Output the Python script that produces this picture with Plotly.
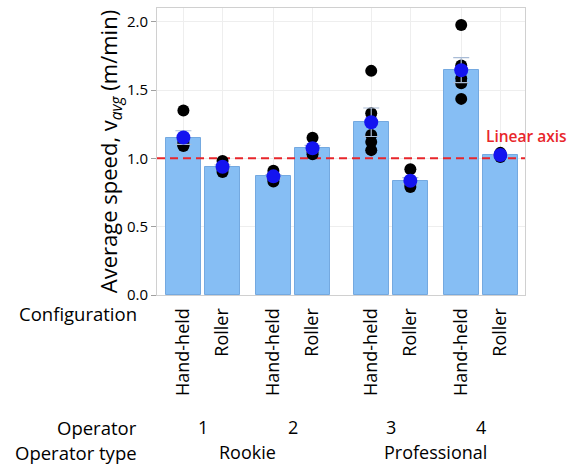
import numpy as np
import plotly.graph_objects as go

# ---- data -------------------------------------------------------------
operators = ["1", "2", "3", "4"]
operator_types = ["Rookie", "Rookie", "Professional", "Professional"]
configurations = ["Hand-held", "Roller"]

# individual runs, average speed v_avg (m/min), one list per operator/configuration
speed_op1_hand = [1.35, 1.12, 1.10, 1.10, 1.09]
speed_op1_roll = [0.98, 0.95, 0.94, 0.92, 0.90]
speed_op2_hand = [0.91, 0.88, 0.87, 0.85, 0.83]
speed_op2_roll = [1.15, 1.08, 1.06, 1.05, 1.03]
speed_op3_hand = [1.64, 1.33, 1.17, 1.12, 1.06]
speed_op3_roll = [0.92, 0.84, 0.82, 0.81, 0.79]
speed_op4_hand = [1.975, 1.68, 1.585, 1.55, 1.435]
speed_op4_roll = [1.04, 1.03, 1.02, 1.02, 1.01]

reference_speed = 1.0
y_ticks = [0.0, 0.5, 1.0, 1.5, 2.0]

runs = [
    speed_op1_hand, speed_op1_roll,
    speed_op2_hand, speed_op2_roll,
    speed_op3_hand, speed_op3_roll,
    speed_op4_hand, speed_op4_roll,
]

# ---- nested x positions (configuration within operator within type) ---
STEP_CFG, STEP_OP, STEP_TYPE = 1.0, 1.3, 1.5
positions, tick_text, op_centres, type_members = [], [], [], {}
x = 0.0
prev_op_type = None
for i, (op, typ) in enumerate(zip(operators, operator_types)):
    if i > 0:
        x += STEP_TYPE if typ != prev_op_type else STEP_OP
    first = x
    for j, cfg in enumerate(configurations):
        if j > 0:
            x += STEP_CFG
        positions.append(x)
        tick_text.append(cfg)
    op_centres.append((first + x) / 2)
    type_members.setdefault(typ, []).append((first + x) / 2)
    prev_op_type = typ

means = [float(np.mean(r)) for r in runs]
sems = [float(np.std(r, ddof=1) / np.sqrt(len(r))) for r in runs]

x_range = [positions[0] - 0.675, positions[-1] + 0.63]

FONT = "Open Sans"
BAR_FILL = "#86BEF4"
BAR_EDGE = "#74A9E0"
RED = "#E8262B"

# plot-area geometry in pixels (used to place the row titles)
PLOT_W, PLOT_H, PLOT_BOTTOM = 368, 287, 295

fig = go.Figure()

fig.add_trace(go.Bar(
    x=positions, y=means, width=0.9,
    marker=dict(color=BAR_FILL, line=dict(color=BAR_EDGE, width=1)),
    showlegend=False,
))

# horizontal reference line at 1 m/min
fig.add_trace(go.Scatter(
    x=x_range, y=[reference_speed, reference_speed], mode="lines",
    line=dict(color=RED, width=2, dash="8px,5px"),
    showlegend=False, hoverinfo="skip",
))

# individual runs
pts_x = [p for p, r in zip(positions, runs) for _ in r]
pts_y = [v for r in runs for v in r]
fig.add_trace(go.Scatter(
    x=pts_x, y=pts_y, mode="markers",
    marker=dict(color="black", size=12),
    showlegend=False,
))

# means with standard-error bars
fig.add_trace(go.Scatter(
    x=positions, y=means, mode="markers",
    marker=dict(color="#1414F0", size=14),
    error_y=dict(type="data", array=sems, color="#A9BCD6", thickness=1.2, width=8),
    showlegend=False,
))


def row_y(ypix):
    return (PLOT_BOTTOM - ypix) / PLOT_H


annotations = []
LABEL_SIZE = 18
ROW_CONFIG, ROW_OPERATOR, ROW_TYPE = 313, 427, 452
# row titles on the left
for text, ypix in [("Configuration", ROW_CONFIG), ("Operator", ROW_OPERATOR),
                   ("Operator type", ROW_TYPE)]:
    annotations.append(dict(
        text=text, xref="paper", yref="paper",
        x=-19 / PLOT_W, y=row_y(ypix), borderpad=0,
        xanchor="right", yanchor="middle", showarrow=False,
        font=dict(family=FONT, size=LABEL_SIZE + 0.5, color="black"),
    ))
# operator numbers
for op, xc in zip(operators, op_centres):
    annotations.append(dict(
        text=op, xref="x", yref="paper", x=xc, y=row_y(ROW_OPERATOR),
        borderpad=0, xanchor="center", yanchor="middle", showarrow=False,
        font=dict(family=FONT, size=LABEL_SIZE, color="black"),
    ))
# operator types
for typ, members in type_members.items():
    annotations.append(dict(
        text=typ, xref="x", yref="paper", x=float(np.mean(members)),
        y=row_y(ROW_TYPE), borderpad=0,
        xanchor="center", yanchor="middle", showarrow=False,
        font=dict(family=FONT, size=LABEL_SIZE, color="black"),
    ))
# reference line label
annotations.append(dict(
    text="Linear axis", xref="paper", yref="y", x=1.003, y=1.163,
    xanchor="center", yanchor="middle", showarrow=False,
    font=dict(family=FONT, size=15.5, color=RED, weight=600),
))

fig.update_layout(
    width=574, height=466,
    margin=dict(l=157, r=49, t=8, b=171),
    paper_bgcolor="white", plot_bgcolor="white",
    font=dict(family=FONT, color="black"),
    annotations=annotations,
    bargap=0,
)

fig.update_xaxes(
    range=x_range,
    tickmode="array", tickvals=positions, ticktext=tick_text,
    tickangle=-90, tickfont=dict(family=FONT, size=18, color="black"),
    ticks="", ticklabelstandoff=5,
    showgrid=True, gridcolor="#EEEEEE", gridwidth=1,
    showline=True, linecolor="#D0D0D0", linewidth=1, mirror=True,
    zeroline=False,
)
fig.update_yaxes(
    range=[0, 2.1],
    tickmode="array", tickvals=y_ticks, ticktext=[f"{v:.1f}" for v in y_ticks],
    tickfont=dict(family=FONT, size=15, color="black"),
    ticks="outside", ticklen=5, tickcolor="#A0A0A0",
    showgrid=True, gridcolor="#EEEEEE", gridwidth=1,
    showline=True, linecolor="#D0D0D0", linewidth=1, mirror=True,
    zeroline=False,
    title=dict(
        text="Average speed, v<sub><i>avg</i></sub> (m/min)",
        font=dict(family=FONT, size=22, color="black"),
        standoff=2,
    ),
)

fig.write_html("out.html")
